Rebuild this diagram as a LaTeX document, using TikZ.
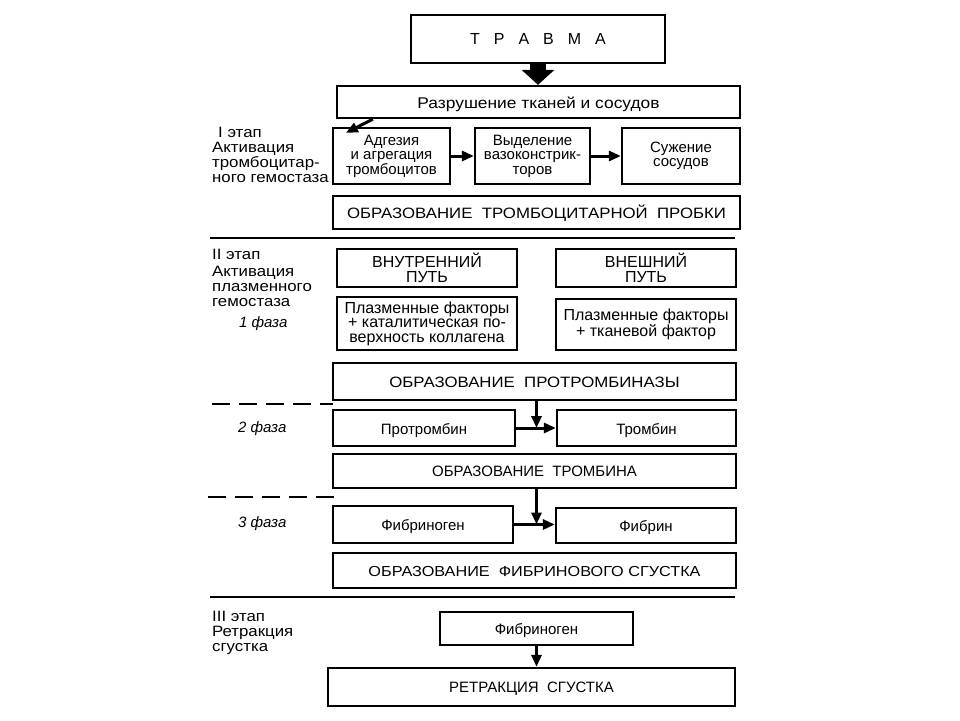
\documentclass[tikz,border=0pt]{standalone}
\usepackage{fontspec}
\setmainfont{Liberation Sans}
\newfontfamily\wide{Liberation Sans}[FakeStretch=1.12]
\usetikzlibrary{arrows.meta}
\newcommand\mkbox[7][]{\node[box,#1, minimum width={(#4-#2)*1pt}, minimum height={(#6-#3)*1pt}] (#7) at ({(#2+#4)/2},{(#3+#6)/2}) }
\newcommand\fs[2]{\fontsize{#1}{#2}\selectfont}
\begin{document}
\begin{tikzpicture}[x=1pt,y=-1pt,
 box/.style={draw, line width=2.3pt, inner sep=0pt, font=\fs{15}{14.5}},
 multi/.style={align=center},
 low/.style={text height=12pt, text depth=0pt},
 caps/.style={text height=11pt, text depth=0pt},
 lab/.style={align=left, anchor=north west, inner sep=0pt, font=\wide\fs{15}{15}},
 fz/.style={inner sep=0pt, anchor=west, font=\fs{15}{15}\itshape},
 arr/.style={line width=3pt, -{Triangle[length=12pt,width=10pt]}},
 bigarr/.style={line width=16pt, -{Triangle[length=15pt,width=32pt]}},
 sep/.style={line width=2pt},
 dsep/.style={line width=2pt, dash pattern=on 18pt off 9pt}]
\fill[white] (0,0) rectangle (960,720);
\useasboundingbox (0,0) rectangle (960,720);

\mkbox[caps, font=\fs{16}{16}]{411}{15}{665}{x}{63}{trauma} {Т\hspace{14pt}Р\hspace{14pt}А\hspace{14pt}В\hspace{14pt}М\hspace{14pt}А};
\mkbox[low, font=\wide\fs{15.5}{15}]{337}{86}{740}{x}{118}{razr} {Разрушение тканей и сосудов};
\mkbox[multi]{333}{128}{450}{x}{184}{adg} {Адгезия\\и агрегация\\тромбоцитов};
\mkbox[multi]{475}{128}{590}{x}{184}{vyd} {Выделение\\вазоконстрик-\\торов};
\mkbox[multi]{622}{128}{740}{x}{184}{suzh} {Сужение\\сосудов};
\mkbox[caps, font=\wide\fs{15}{15}]{333}{196}{740}{x}{229}{probka} {ОБРАЗОВАНИЕ\ \ ТРОМБОЦИТАРНОЙ\ \ ПРОБКИ};

\mkbox[multi, font=\fs{16}{14.5}]{337}{249}{517}{x}{287}{vnutr} {ВНУТРЕННИЙ\\ПУТЬ};
\mkbox[multi, font=\fs{16}{14.5}]{556}{249}{736}{x}{287}{vnesh} {ВНЕШНИЙ\\ПУТЬ};
\mkbox[multi, font=\fs{16}{14.5}]{337}{297}{517}{x}{350}{pf1} {Плазменные факторы\\+ каталитическая по-\\верхность коллагена};
\mkbox[multi, font=\fs{16}{14.5}]{556}{299}{736}{x}{350}{pf2} {Плазменные факторы\\+ тканевой фактор};
\mkbox[caps, font=\wide\fs{15}{15}]{333}{363}{736}{x}{400}{prtz} {ОБРАЗОВАНИЕ\ \ ПРОТРОМБИНАЗЫ};
\mkbox[low]{333}{410}{515}{x}{446}{ptb} {Протромбин};
\mkbox[low]{557}{410}{736}{x}{446}{trb} {Тромбин};
\mkbox[caps]{333}{454}{736}{x}{488}{obtr} {ОБРАЗОВАНИЕ\ \ ТРОМБИНА};
\mkbox[low]{333}{506}{513}{x}{543}{fbg} {Фибриноген};
\mkbox[low]{556}{508}{736}{x}{543}{fbn} {Фибрин};
\mkbox[caps, font=\wide\fs{14.5}{15}]{333}{553}{736}{x}{588}{sgust} {ОБРАЗОВАНИЕ\ \ ФИБРИНОВОГО СГУСТКА};
\mkbox[low]{440}{612}{633}{x}{645}{fbg3} {Фибриноген};
\mkbox[caps]{328}{668}{735}{x}{706}{retr} {РЕТРАКЦИЯ\ \ СГУСТКА};

% connectors
\draw[bigarr] (trauma.south) -- (trauma.south |- razr.north);
\draw[arr] ([xshift=37pt]razr.south west) -- ([xshift=14pt,yshift=-6pt]adg.north west);
\draw[arr] (adg) -- (vyd);
\draw[arr] (vyd) -- (suzh);
\coordinate (j1) at ([xshift=2pt]prtz.south |- ptb.east);
\draw[arr] ([xshift=2pt]prtz.south) -- (j1);
\draw[arr] (ptb) -- (trb);
\coordinate (j2) at ([xshift=2pt]obtr.south |- fbg.east);
\draw[arr] ([xshift=2pt]obtr.south) -- (j2);
\draw[arr] (fbg.east) -- (fbg.east -| fbn.west);
\draw[arr] (fbg3.south) -- (fbg3.south |- retr.north);

% separators
\draw[sep] (210,238) -- (735,238);
\draw[dsep] (212,404) -- (333,404);
\draw[dsep] (208,497) -- (340,497);
\draw[sep] (210,597) -- (735,597);

% labels
\node[lab] (l1) at (212,127) {\hspace{6pt}I этап\\Активация\\тромбоцитар-\\ного гемостаза};
\node[lab] (l2) at (212,249) {II этап\\[1.5pt]Активация\\плазменного\\гемостаза};
\node[fz] (f1) at (239,324) {1 фаза};
\node[fz] (f2) at (238,429) {2 фаза};
\node[fz] (f3) at (238,524) {3 фаза};
\node[lab] (l3) at (212,611) {III этап\\Ретракция\\сгустка};
\end{tikzpicture}
\end{document}
